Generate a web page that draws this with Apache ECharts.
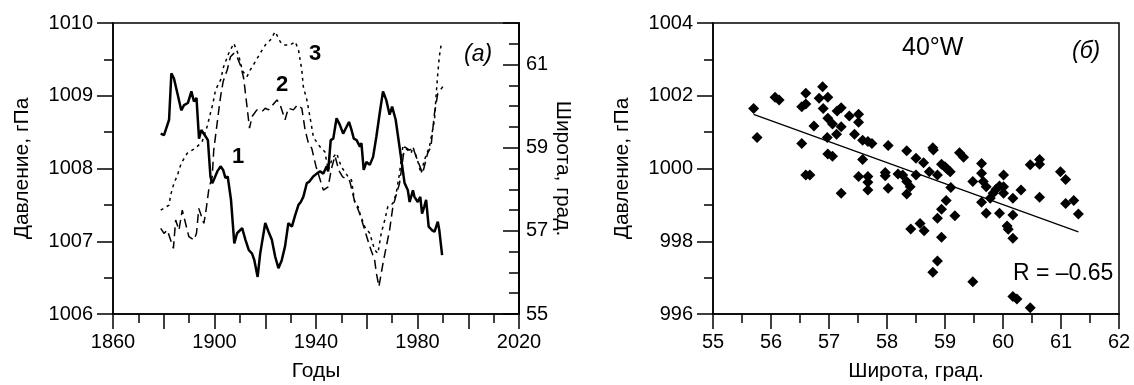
<!DOCTYPE html>
<html>
<head>
<meta charset="utf-8">
<script src="https://cdn.jsdelivr.net/npm/echarts@6/dist/echarts.min.js"></script>
<style>
html, body { margin: 0; padding: 0; background: #fff; }
#chart { width: 1134px; height: 385px; }
</style>
</head>
<body>
<div id="chart"></div>
<script>
// (а) кривая 1 - давление, гПа
var years1 = [1878.8,1880.1,1882.1,1883.0,1884.0,1885.4,1886.9,1888.0,1889.5,1890.9,1891.9,1892.9,1893.9,1894.8,1896.5,1897.4,1898.4,1899.1,1899.7,1901.1,1902.4,1903.4,1904.3,1905.2,1906.5,1907.8,1908.9,1910.9,1912.2,1913.5,1914.8,1915.7,1917.0,1918.0,1920.0,1921.3,1922.6,1923.9,1925.2,1926.5,1927.8,1929.1,1930.5,1931.8,1933.1,1934.0,1935.0,1936.4,1937.4,1938.9,1940.3,1941.6,1942.9,1944.2,1944.8,1945.8,1946.8,1948.1,1949.4,1950.7,1952.0,1953.0,1954.0,1954.9,1956.0,1957.3,1957.9,1958.8,1959.9,1961.2,1962.5,1963.8,1965.1,1966.4,1967.7,1969.0,1970.0,1971.4,1972.7,1974.0,1974.9,1976.2,1976.9,1978.2,1978.8,1980.1,1981.1,1981.8,1982.7,1983.4,1984.4,1985.8,1986.7,1988.0,1988.6,1989.7];
var pres1 = [1008.48,1008.46,1008.67,1009.31,1009.24,1009.03,1008.80,1008.87,1008.90,1009.06,1008.92,1008.97,1008.41,1008.53,1008.44,1008.39,1007.89,1007.80,1007.84,1007.96,1008.03,1007.98,1007.87,1007.89,1007.57,1006.97,1007.11,1007.18,1007.02,1006.88,1006.83,1006.74,1006.51,1006.83,1007.25,1007.13,1007.02,1006.79,1006.63,1006.74,1006.93,1007.25,1007.20,1007.36,1007.50,1007.54,1007.61,1007.80,1007.82,1007.89,1007.93,1007.96,1007.93,1008.03,1007.96,1008.39,1008.41,1008.69,1008.60,1008.48,1008.57,1008.64,1008.53,1008.41,1008.39,1008.30,1008.35,1007.98,1008.09,1008.05,1008.16,1008.44,1008.76,1009.06,1008.94,1008.74,1008.85,1008.67,1008.35,1008.03,1007.80,1007.70,1007.54,1007.70,1007.61,1007.54,1007.61,1007.38,1007.48,1007.57,1007.20,1007.15,1007.13,1007.27,1007.15,1006.81];

// кривая 2 - широта, град.
var years2 = [1878.8,1880.1,1881.4,1883.8,1884.7,1886.0,1887.3,1889.9,1891.9,1892.9,1893.8,1895.8,1896.5,1897.8,1899.1,1899.7,1901.7,1902.4,1903.4,1905.0,1906.3,1907.6,1908.9,1910.4,1911.5,1912.5,1913.8,1914.8,1916.7,1918.7,1920.0,1921.3,1924.6,1925.9,1927.8,1929.1,1931.1,1932.7,1934.4,1935.7,1937.0,1938.3,1940.0,1942.9,1944.8,1946.1,1947.5,1949.0,1950.5,1953.3,1955.1,1957.3,1959.2,1961.2,1963.1,1963.8,1964.8,1966.4,1967.7,1969.0,1970.3,1972.9,1974.9,1976.9,1978.2,1980.0,1982.0,1984.0,1985.3,1986.0,1986.7,1988.0,1990.0];
var lat2 = [57.06,56.94,57.02,56.58,57.26,57.02,57.50,56.86,56.78,56.94,57.54,57.18,57.42,58.02,58.30,58.94,59.91,60.23,60.59,60.87,61.19,61.27,61.19,60.95,60.67,60.15,59.47,59.75,59.91,59.87,59.95,59.91,60.15,60.03,59.67,59.95,59.91,60.03,59.95,59.43,59.11,58.99,58.55,57.98,58.06,58.50,58.80,58.45,58.30,58.20,57.74,57.40,57.02,56.62,56.30,55.98,55.66,56.22,56.62,57.02,57.58,58.14,59.02,58.94,59.00,58.70,58.38,58.87,59.02,59.43,59.83,60.31,60.47];

// кривая 3 - широта, град.
var years3 = [1878.8,1882.1,1882.7,1884.0,1885.4,1886.9,1889.3,1892.5,1895.1,1897.1,1898.4,1899.4,1900.4,1902.4,1903.6,1905.6,1907.6,1909.5,1911.0,1912.8,1914.1,1916.1,1918.0,1920.0,1922.0,1923.9,1925.9,1927.2,1929.8,1931.8,1933.1,1934.4,1935.0,1936.4,1937.6,1939.0,1941.6,1943.5,1944.8,1946.5,1948.1,1950.0,1952.7,1954.0,1955.3,1956.6,1957.3,1959.2,1961.2,1963.1,1964.4,1965.7,1967.1,1968.3,1970.3,1971.6,1972.9,1974.2,1976.2,1977.5,1978.2,1980.0,1981.4,1982.7,1984.7,1986.7,1987.3,1988.0,1988.6,1989.3];
var lat3 = [57.50,57.62,57.86,58.14,58.34,58.63,58.87,58.99,59.14,59.51,59.83,60.07,60.39,60.63,60.95,61.27,61.51,61.23,60.85,60.71,60.87,61.07,61.27,61.47,61.59,61.79,61.55,61.47,61.47,61.55,61.35,60.87,60.47,60.15,59.75,59.25,59.02,58.90,58.46,58.75,58.87,58.54,58.30,58.22,57.66,57.58,57.42,57.10,56.94,56.54,56.46,56.94,57.26,57.58,57.66,57.90,58.38,59.02,58.94,58.87,59.02,58.70,58.38,58.70,59.02,59.67,60.23,60.79,61.19,61.47];

// (б) 40°W - широта / давление
var scLat = [55.70,55.76,56.07,56.14,56.53,56.60,56.60,56.53,56.74,56.83,56.89,56.90,56.98,56.98,57.06,56.97,57.13,57.14,57.21,57.21,56.98,57.06,57.35,57.44,57.51,57.51,57.58,57.67,57.74,57.58,58.02,56.60,56.67,57.21,57.51,57.67,57.67,57.67,57.97,57.97,58.02,58.19,58.27,58.34,58.40,58.34,58.50,58.50,58.63,58.73,58.80,58.87,58.94,59.00,59.04,59.09,59.10,59.02,58.94,58.87,59.17,58.94,58.41,58.57,58.64,58.87,58.79,59.25,59.32,59.48,59.63,59.63,59.66,59.71,59.63,59.71,59.78,59.83,59.88,59.94,60.01,60.01,60.01,59.94,60.17,60.17,60.07,60.09,60.17,60.31,60.47,60.63,60.63,60.63,60.99,61.08,61.08,61.22,61.30,59.48,60.17,60.24,60.47,58.34,58.79];
var scPres = [1001.65,1000.85,1001.96,1001.88,1001.70,1001.77,1002.07,1000.69,1001.17,1001.93,1002.25,1001.65,1001.96,1001.38,1001.22,1000.85,1000.94,1001.58,1001.67,1001.15,1000.40,1000.34,1001.44,1000.94,1001.49,1001.27,1000.78,1000.74,1000.69,1000.25,1000.63,999.82,999.82,999.32,999.78,999.78,999.62,999.41,999.89,999.80,999.46,999.85,999.82,999.64,999.50,999.30,999.82,1000.28,1000.16,999.91,1000.51,999.82,1000.12,1000.05,999.98,999.91,999.48,999.12,998.88,998.63,998.70,998.11,998.34,998.49,998.29,997.46,997.15,1000.43,1000.31,999.64,1000.14,999.87,999.64,999.50,999.07,998.77,999.18,999.32,999.43,999.52,999.82,999.50,999.32,998.77,999.18,998.72,998.42,998.33,998.08,999.41,1000.10,1000.25,1000.12,999.21,999.91,999.70,999.04,999.12,998.75,996.89,996.48,996.41,996.17,1000.49,1000.57];

// линия регрессии
var fitLat = [55.7, 61.3];
var fitPres = [1001.49, 998.26];

function pairs(xs, ys) {
    var out = [];
    for (var i = 0; i < xs.length; i++) out.push([xs[i], ys[i]]);
    return out;
}

var FONT = 'Liberation Sans, Arial, sans-serif';
var black = '#000';

function plain(v) { return String(v); }

function label(margin, fmt) {
    return { color: black, fontFamily: FONT, fontSize: 20, margin: margin,
        showMinLabel: true, showMaxLabel: true, formatter: fmt || plain };
}

function axisBase(extra) {
    var a = {
        type: 'value',
        axisLine: { show: true, lineStyle: { color: black, width: 1.5 } },
        axisTick: { show: true, length: 15, lineStyle: { color: black, width: 1.5 } },
        minorTick: { show: true, splitNumber: 2, length: 9, lineStyle: { color: black, width: 1.5 } },
        splitLine: { show: false },
        minorSplitLine: { show: false },
        axisLabel: label(18),
        nameTextStyle: { color: black, fontFamily: FONT, fontSize: 21 },
        nameLocation: 'middle',
        nameMoveOverlap: false
    };
    for (var k in extra) a[k] = extra[k];
    return a;
}

var myChart = echarts.init(document.getElementById('chart'));

var option = {
    backgroundColor: '#fff',
    animation: false,
    grid: [
        { left: 113, top: 23, width: 406, height: 291, show: true, borderColor: black, borderWidth: 1.5, containLabel: false, outerBoundsMode: 'none' },
        { left: 713, top: 23, width: 406, height: 291, show: true, borderColor: black, borderWidth: 1.5, containLabel: false, outerBoundsMode: 'none' }
    ],
    xAxis: [
        // риски через 20 лет, подписи через 40
        axisBase({ gridIndex: 0, min: 1860, max: 2020, interval: 20, name: 'Годы', nameGap: 47,
            axisLabel: label(18, function (v) { return (v - 1860) % 40 === 0 ? String(v) : ''; }) }),
        axisBase({ gridIndex: 1, min: 55, max: 62, interval: 1, name: 'Широта, град.', nameGap: 47 })
    ],
    yAxis: [
        axisBase({ gridIndex: 0, min: 1006, max: 1010, interval: 1, name: 'Давление, гПа', nameGap: 80,
            axisTick: { show: true, length: 16, lineStyle: { color: black, width: 1.5 } },
            axisLabel: label(20) }),
        // правая ось: мелкие риски
        axisBase({ gridIndex: 0, position: 'right', min: 55, max: 62, interval: 0.5,
            axisTick: { show: true, inside: true, length: 10, lineStyle: { color: black, width: 1.5 } },
            minorTick: { show: false },
            axisLabel: { show: false } }),
        // правая ось: подписи
        axisBase({ gridIndex: 0, position: 'right', min: 55, max: 62, interval: 2,
            name: 'Широта, град.', nameGap: 33, nameRotate: -90,
            axisTick: { show: true, inside: true, length: 16, lineStyle: { color: black, width: 1.5 } },
            minorTick: { show: false },
            axisLabel: label(7, function (v) { return v > 61.5 ? '' : String(v); }) }),
        axisBase({ gridIndex: 1, min: 996, max: 1004, interval: 2, name: 'Давление, гПа', nameGap: 80,
            axisTick: { show: true, length: 16, lineStyle: { color: black, width: 1.5 } },
            axisLabel: label(20) })
    ],
    series: [
        {
            name: '1', type: 'line', xAxisIndex: 0, yAxisIndex: 0,
            data: pairs(years1, pres1), showSymbol: false, symbol: 'none',
            lineStyle: { color: black, width: 2.5 }
        },
        {
            name: '2', type: 'line', xAxisIndex: 0, yAxisIndex: 1,
            data: pairs(years2, lat2), showSymbol: false, symbol: 'none',
            lineStyle: { color: black, width: 1.5, type: [9, 5] }
        },
        {
            name: '3', type: 'line', xAxisIndex: 0, yAxisIndex: 1,
            data: pairs(years3, lat3), showSymbol: false, symbol: 'none',
            lineStyle: { color: black, width: 1.5, type: [3, 4] }
        },
        {
            name: 'fit', type: 'line', xAxisIndex: 1, yAxisIndex: 3,
            data: pairs(fitLat, fitPres), showSymbol: false, symbol: 'none',
            lineStyle: { color: black, width: 1.3 }
        },
        {
            name: '40W', type: 'scatter', xAxisIndex: 1, yAxisIndex: 3,
            data: pairs(scLat, scPres), symbol: 'diamond', symbolSize: 11,
            itemStyle: { color: black, opacity: 1 }
        }
    ],
    graphic: [
        { type: 'text', left: 232, top: 146, style: { text: '1', font: 'bold 22px ' + FONT, fill: black } },
        { type: 'text', left: 276, top: 74, style: { text: '2', font: 'bold 22px ' + FONT, fill: black } },
        { type: 'text', left: 309, top: 43, style: { text: '3', font: 'bold 22px ' + FONT, fill: black } },
        { type: 'text', left: 464, top: 43, style: { text: '(а)', font: 'italic 23px ' + FONT, fill: black } },
        { type: 'text', left: 902, top: 36, style: { text: '40°W', font: '25px ' + FONT, fill: black } },
        { type: 'text', left: 1072, top: 40, style: { text: '(б)', font: 'italic 23px ' + FONT, fill: black } },
        { type: 'text', left: 1013, top: 262, style: { text: 'R = –0.65', font: '23px ' + FONT, fill: black } }
    ]
};

myChart.setOption(option);
</script>
</body>
</html>
